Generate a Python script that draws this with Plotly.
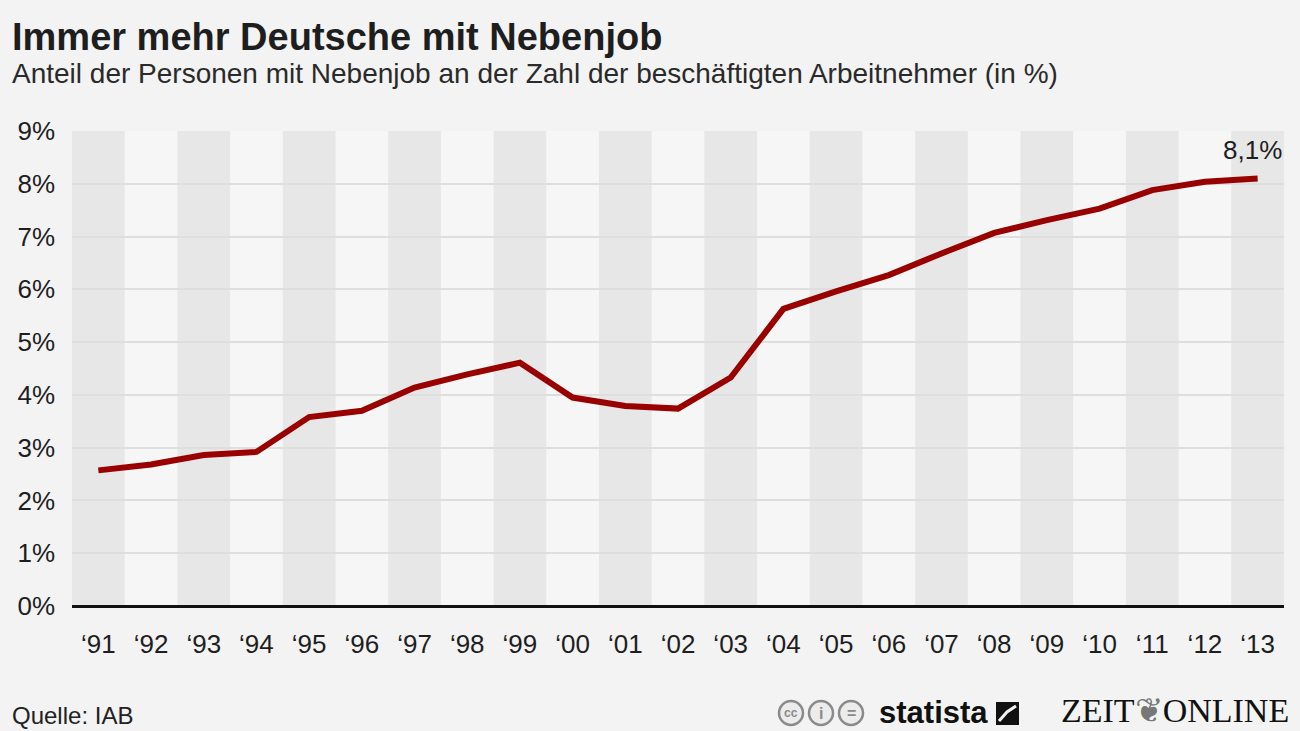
import plotly.graph_objects as go

years = ["‘91", "‘92", "‘93", "‘94", "‘95", "‘96", "‘97", "‘98", "‘99", "‘00", "‘01", "‘02",
         "‘03", "‘04", "‘05", "‘06", "‘07", "‘08", "‘09", "‘10", "‘11", "‘12", "‘13"]
anteil = [2.57, 2.68, 2.86, 2.92, 3.58, 3.70, 4.14, 4.39, 4.61, 3.95, 3.79, 3.74,
          4.33, 5.63, 5.96, 6.27, 6.68, 7.07, 7.31, 7.53, 7.88, 8.04, 8.10]
y_ticks = [0, 1, 2, 3, 4, 5, 6, 7, 8, 9]
y_labels = [f"{v}%" for v in y_ticks]
last_label = "8,1%"

idx = list(range(len(years)))
font = "Liberation Sans, Arial, sans-serif"

# plot area in pixels (for placing the texts around it)
L, R, T, B = 72, 16, 131, 125
W, H = 1300, 731
pw, ph = W - L - R, H - T - B

def px(x):
    return (x - L) / pw

def py(y):
    return (H - B - y) / ph

fig = go.Figure()
fig.add_trace(go.Scatter(x=idx, y=anteil, mode="lines",
                         line=dict(color="#990000", width=6),
                         hoverinfo="skip"))

# alternating column bands
for i in idx:
    if i % 2 == 0:
        fig.add_shape(type="rect", xref="x", yref="y", x0=i - 0.5, x1=i + 0.5,
                      y0=0, y1=9, fillcolor="#e7e7e7", line_width=0, layer="below")

fig.add_annotation(xref="paper", yref="y", x=1, y=anteil[-1], xanchor="right",
                   text=last_label, showarrow=False, yshift=29,
                   font=dict(size=26, color="#1e1e1e", family=font))

# titles and footer
fig.add_annotation(xref="paper", yref="paper", x=px(10), y=py(37), xanchor="left", yanchor="middle",
                   text="<b>Immer mehr Deutsche mit Nebenjob</b>", showarrow=False,
                   font=dict(size=38, color="#1e1e1e", family=font))
fig.add_annotation(xref="paper", yref="paper", x=px(10), y=py(73), xanchor="left", yanchor="middle",
                   text="Anteil der Personen mit Nebenjob an der Zahl der beschäftigten Arbeitnehmer (in %)",
                   showarrow=False, font=dict(size=28, color="#2a2a2a", family=font))
fig.add_annotation(xref="paper", yref="paper", x=px(10), y=py(715), xanchor="left", yanchor="middle",
                   text="Quelle: IAB", showarrow=False, font=dict(size=24, color="#222", family=font))

# licence icons
for cx, sym in zip([791, 821, 851], ["cc", "i", "="]):
    fig.add_shape(type="circle", xref="paper", yref="paper",
                  x0=px(cx - 12), x1=px(cx + 12), y0=py(725), y1=py(701),
                  line=dict(color="#8a8a8a", width=2.5), fillcolor="#ececec")
    fig.add_annotation(xref="paper", yref="paper", x=px(cx), y=py(713), text=f"<b>{sym}</b>",
                       xanchor="center", yanchor="middle", showarrow=False,
                       font=dict(size=12 if sym == "cc" else 16, color="#8a8a8a", family=font))

# statista logo
fig.add_annotation(xref="paper", yref="paper", x=px(990), y=py(712), xanchor="right", yanchor="middle",
                   text="<b>statista</b>", showarrow=False,
                   font=dict(size=31, color="#111", family="Liberation Sans Narrow, " + font))
fig.add_shape(type="rect", xref="paper", yref="paper", x0=px(996), x1=px(1019), y0=py(725), y1=py(702),
              fillcolor="#111", line_width=0)
fig.add_shape(type="path", xref="paper", yref="paper",
              path=f"M {px(999)},{py(721)} L {px(1007)},{py(712)} L {px(1016)},{py(706)}",
              line=dict(color="#f3f3f3", width=3))

# ZEIT ONLINE logo
fig.add_annotation(xref="paper", yref="paper", x=px(1291), y=py(710), xanchor="right", yanchor="middle",
                   text="ZEIT<span style='color:#777'>❦</span>ONLINE", showarrow=False,
                   font=dict(size=34, color="#111", family="Liberation Serif, serif"))

fig.update_layout(
    width=W, height=H,
    margin=dict(l=L, r=R, t=T, b=B),
    paper_bgcolor="#f3f3f3", plot_bgcolor="#f6f6f6",
    showlegend=False,
    font=dict(family=font, color="#222"),
)
fig.update_xaxes(range=[-0.5, len(years) - 0.5], tickmode="array", tickvals=idx, ticktext=years,
                 showgrid=False, zeroline=False, showline=False, ticks="",
                 ticklabelstandoff=20, tickfont=dict(size=26, color="#1e1e1e"), fixedrange=True)
fig.update_yaxes(range=[0, 9], tickmode="array", tickvals=y_ticks, ticktext=y_labels,
                 showgrid=True, gridcolor="#dedede", gridwidth=2,
                 zeroline=True, zerolinecolor="#111", zerolinewidth=2.5,
                 showline=False, ticks="", ticklabelstandoff=16,
                 tickfont=dict(size=26, color="#1e1e1e"), fixedrange=True)

fig.write_html("out.html", config={"displayModeBar": False},
               post_script="document.body.style.margin='0';document.body.style.background='#f3f3f3';")
